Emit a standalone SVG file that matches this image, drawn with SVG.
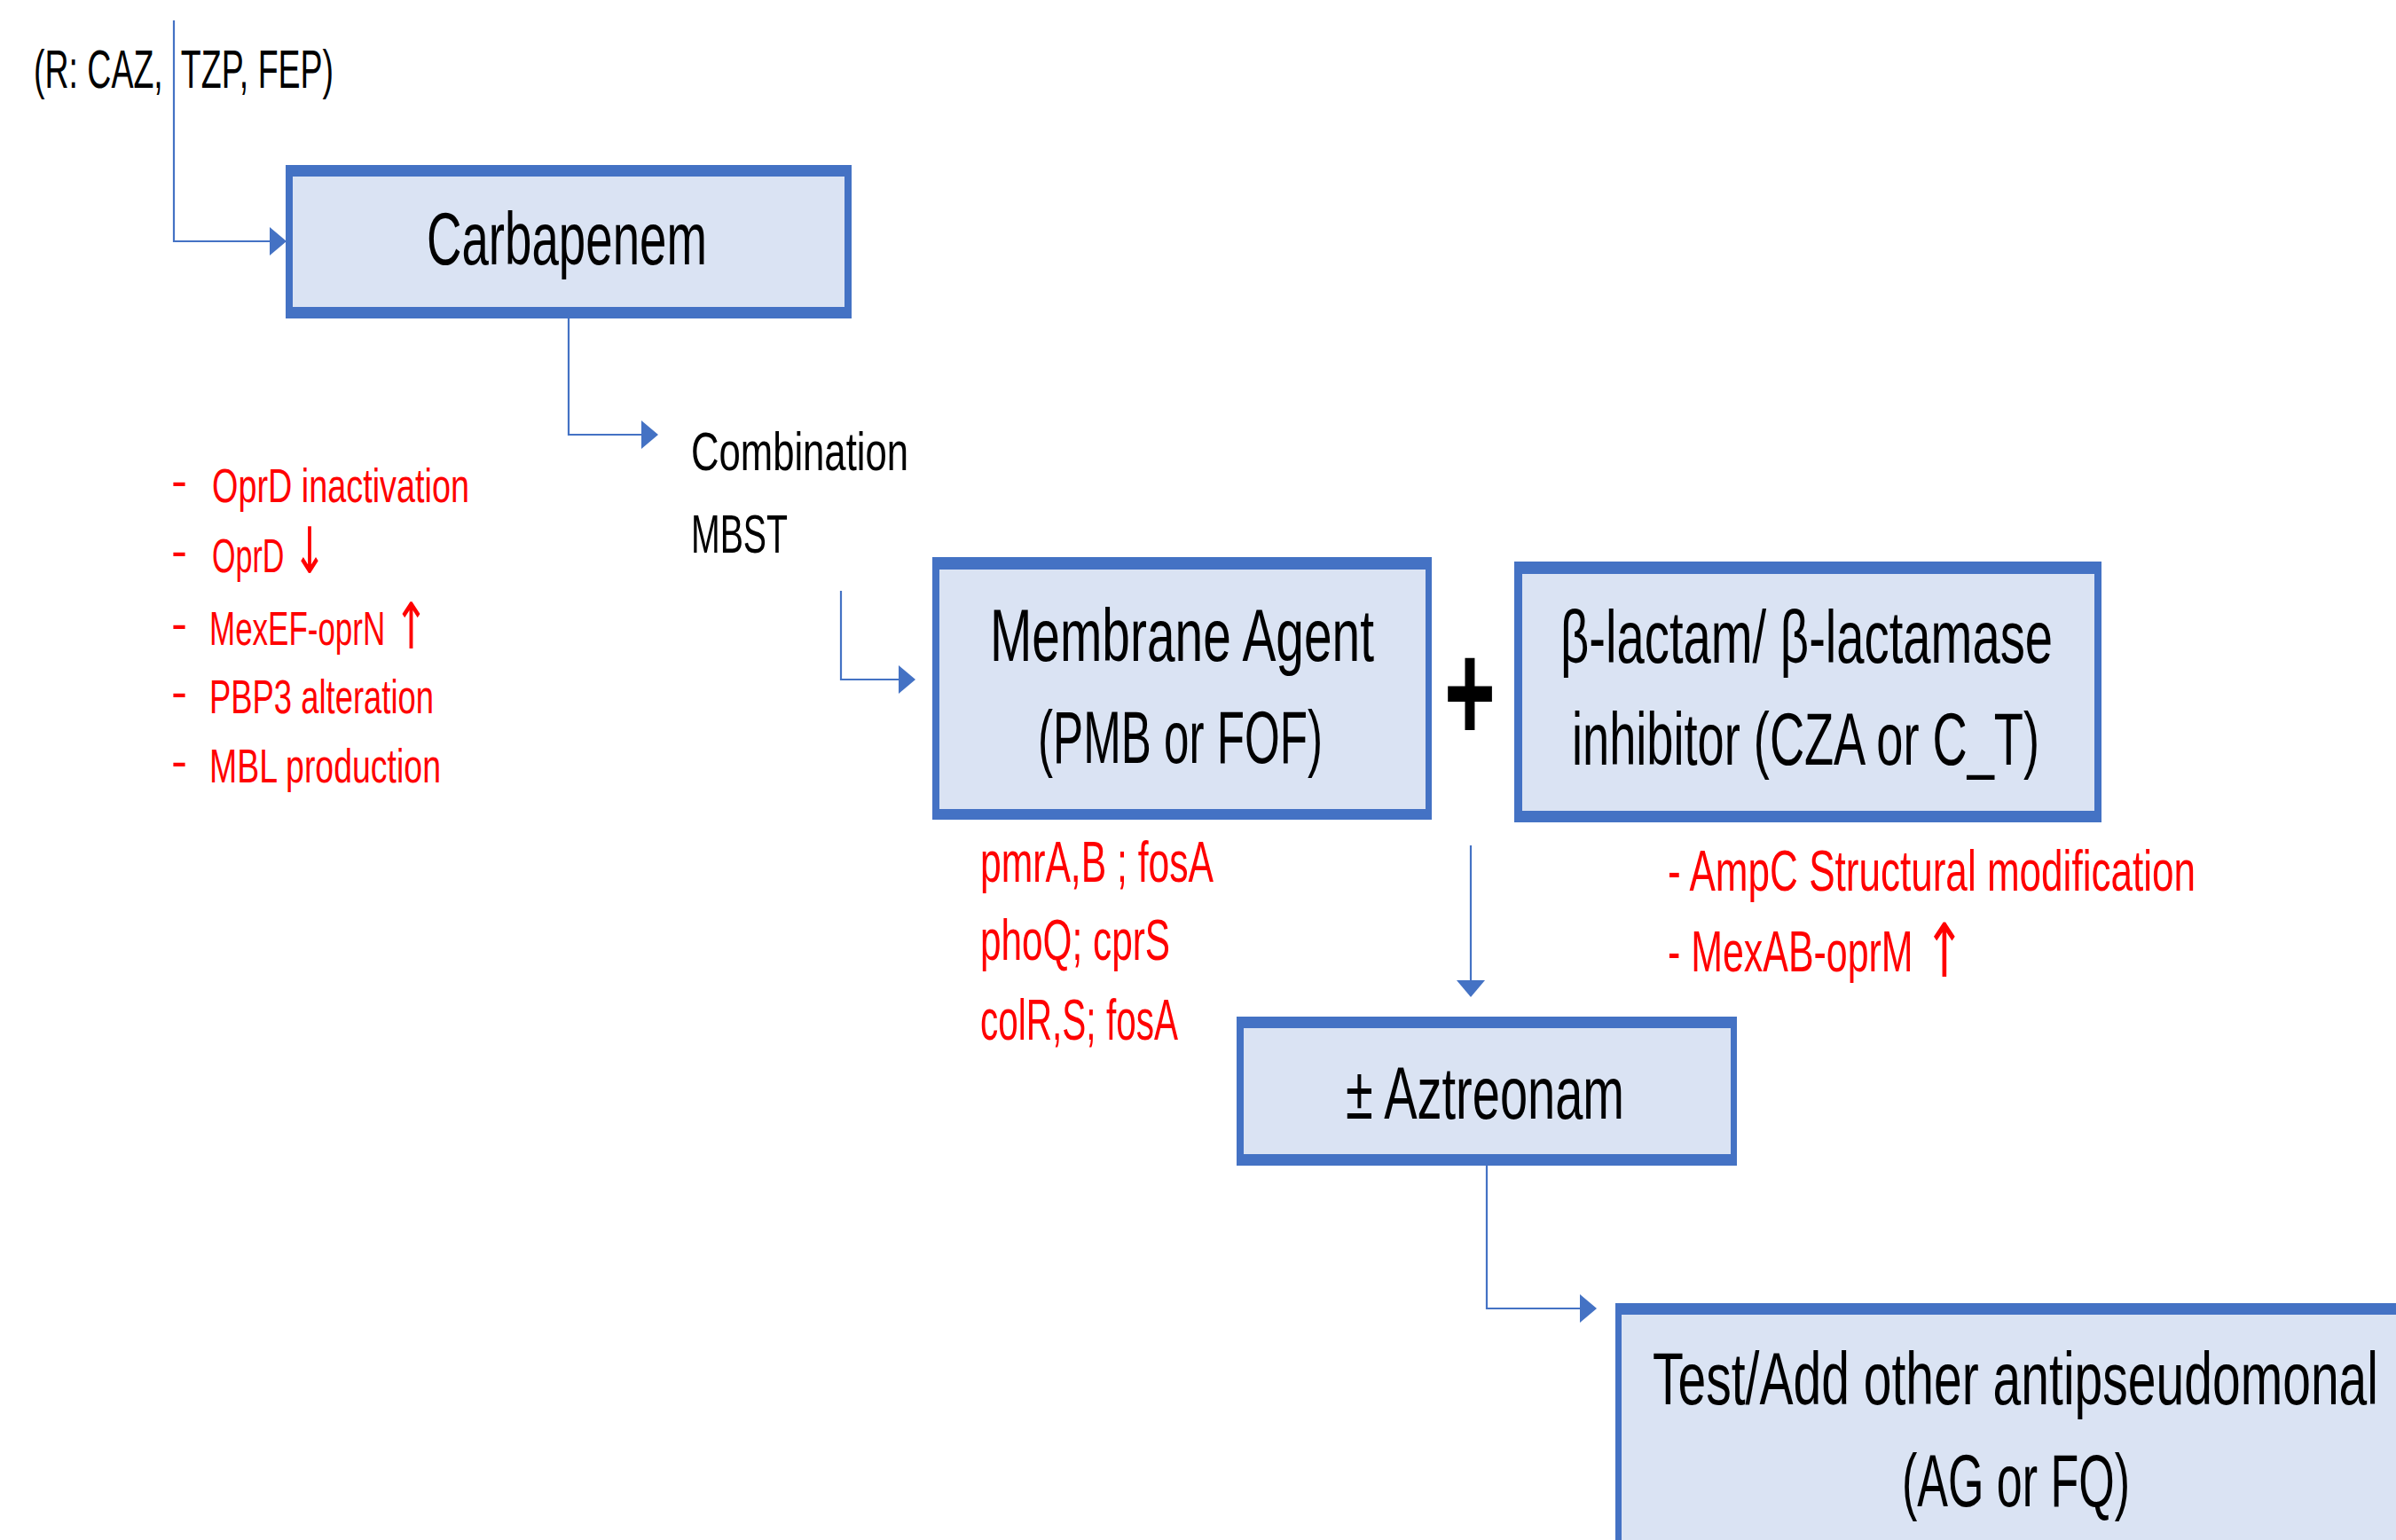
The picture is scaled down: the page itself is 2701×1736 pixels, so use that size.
<svg xmlns="http://www.w3.org/2000/svg" width="2701" height="1736" viewBox="0 0 2701 1736">
<style>
  text { font-family: "Liberation Sans", Arial, sans-serif; white-space: pre; }
  .lbl { font-size: 84px; fill: #000; }
  .mid { font-size: 61px; fill: #000; }
  .red { font-size: 54px; fill: #FF0000; }
  .red2 { font-size: 65px; fill: #FF0000; }
  .arw { font-family: "DejaVu Sans", sans-serif; }
  .border { fill: #4472C4; }
  .inner { fill: #DAE3F3; }
  .conn { fill: none; stroke: #4472C4; stroke-width: 2.2; }
  .head { fill: #4472C4; }
</style>
<defs>
  <marker id="arr" markerUnits="userSpaceOnUse" markerWidth="19" markerHeight="32" refX="0" refY="16" orient="auto">
    <path class="head" d="M0,0 L19,16 L0,32 z"/>
  </marker>
</defs>
<rect width="2701" height="1736" fill="#FFFFFF"/>

<g id="connectors">
  <path class="conn" d="M196,23 V272 H304" marker-end="url(#arr)"/>
  <path class="conn" d="M641,359 V490 H723" marker-end="url(#arr)"/>
  <path class="conn" d="M948,666 V766 H1013" marker-end="url(#arr)"/>
  <path class="conn" d="M1658,953 V1105" marker-end="url(#arr)"/>
  <path class="conn" d="M1676,1314 V1475 H1781" marker-end="url(#arr)"/>
</g>

<g id="input-label">
  <text class="mid" x="38" y="99" textLength="338" lengthAdjust="spacingAndGlyphs">(R: CAZ,  TZP, FEP)</text>
</g>

<g id="carbapenem">
  <rect class="border" x="322" y="186" width="638" height="173"/>
  <rect class="inner" x="330" y="199" width="622" height="147"/>
  <text class="lbl" x="481" y="298" textLength="316" lengthAdjust="spacingAndGlyphs">Carbapenem</text>
</g>

<g id="carbapenem-resistance">
  <text class="red" x="193" y="560">-</text>
  <text class="red" x="239" y="566" textLength="290" lengthAdjust="spacingAndGlyphs">OprD inactivation</text>
  <text class="red" x="193" y="639">-</text>
  <text class="red" x="239" y="645" textLength="129" lengthAdjust="spacingAndGlyphs">OprD <tspan class="arw" font-size="72" dy="1">↓</tspan></text>
  <text class="red" x="193" y="721">-</text>
  <text class="red" x="236" y="727" textLength="247" lengthAdjust="spacingAndGlyphs">MexEF-oprN <tspan class="arw" font-size="72" dy="4">↑</tspan></text>
  <text class="red" x="193" y="798">-</text>
  <text class="red" x="236" y="804" textLength="253" lengthAdjust="spacingAndGlyphs">PBP3 alteration</text>
  <text class="red" x="193" y="876">-</text>
  <text class="red" x="236" y="882" textLength="261" lengthAdjust="spacingAndGlyphs">MBL production</text>
</g>

<g id="combination">
  <text class="mid" x="779" y="530" textLength="245" lengthAdjust="spacingAndGlyphs">Combination</text>
  <text class="mid" x="779" y="623" textLength="109" lengthAdjust="spacingAndGlyphs">MBST</text>
</g>

<g id="membrane-agent">
  <rect class="border" x="1051" y="628" width="563" height="296"/>
  <rect class="inner" x="1059" y="642" width="548" height="270"/>
  <text class="lbl" x="1116" y="745" textLength="433" lengthAdjust="spacingAndGlyphs">Membrane Agent</text>
  <text class="lbl" x="1170" y="860" textLength="321" lengthAdjust="spacingAndGlyphs">(PMB or FOF)</text>
</g>

<g id="plus">
  <text x="0" y="0" font-size="160" font-weight="bold" fill="#000" text-anchor="middle" transform="translate(1657,836) scale(0.62,1)">+</text>
</g>

<g id="bl-bli">
  <rect class="border" x="1707" y="633" width="662" height="294"/>
  <rect class="inner" x="1716" y="647" width="645" height="267"/>
  <text class="lbl" x="1759" y="747" textLength="555" lengthAdjust="spacingAndGlyphs">β-lactam/ β-lactamase</text>
  <text class="lbl" x="1772" y="862" textLength="527" lengthAdjust="spacingAndGlyphs">inhibitor (CZA or C_T)</text>
</g>

<g id="membrane-resistance">
  <text class="red2" x="1105" y="994" textLength="263" lengthAdjust="spacingAndGlyphs">pmrA,B ; fosA</text>
  <text class="red2" x="1105" y="1082" textLength="214" lengthAdjust="spacingAndGlyphs">phoQ; cprS</text>
  <text class="red2" x="1105" y="1172" textLength="223" lengthAdjust="spacingAndGlyphs">colR,S; fosA</text>
</g>

<g id="bl-resistance">
  <text class="red2" x="1880" y="1004" textLength="595" lengthAdjust="spacingAndGlyphs">- AmpC Structural modification</text>
  <text class="red2" x="1880" y="1095" textLength="335" lengthAdjust="spacingAndGlyphs">- MexAB-oprM <tspan class="arw" font-size="84" dy="6">↑</tspan></text>
</g>

<g id="aztreonam">
  <rect class="border" x="1394" y="1146" width="564" height="168"/>
  <rect class="inner" x="1402" y="1159" width="549" height="142"/>
  <text class="lbl" x="1517" y="1261" textLength="314" lengthAdjust="spacingAndGlyphs">± Aztreonam</text>
</g>

<g id="other-antipseudomonal">
  <rect class="border" x="1821" y="1469" width="920" height="300"/>
  <rect class="inner" x="1828" y="1482" width="920" height="300"/>
  <text class="lbl" x="1863" y="1583" textLength="818" lengthAdjust="spacingAndGlyphs">Test/Add other antipseudomonal</text>
  <text class="lbl" x="2144" y="1698" textLength="257" lengthAdjust="spacingAndGlyphs">(AG or FQ)</text>
</g>
</svg>
